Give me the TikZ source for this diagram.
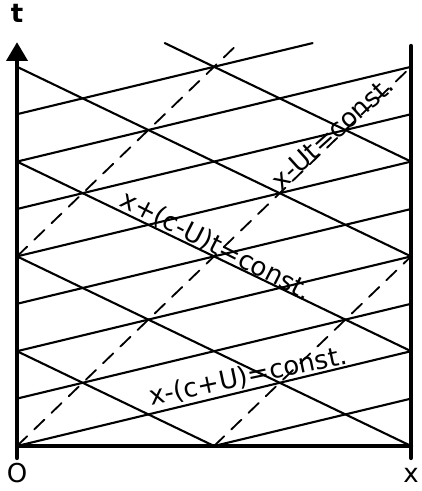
\documentclass[tikz,border=0pt]{standalone}
\usepackage{fontspec}
\setmainfont{DejaVu Sans}
\usetikzlibrary{arrows.meta}
\tikzset{
  every picture/.style={line join=round, line cap=round, >=Stealth},
  wall/.style={line width=3pt},
  charline/.style={line width=1.5pt},
  particle/.style={line width=1.3pt, dash pattern=on 10pt off 7pt},
  lbl/.style={font=\fontsize{18.5}{22}\selectfont, inner sep=0pt},
}

\begin{document}
\begin{tikzpicture}[x=1.642cm,y=1.58cm]
\useasboundingbox (-0.259,-0.712) rectangle (6.152,7.057);
% walls
\draw[wall,-{Triangle[length=0.47cm,width=0.52cm]}](0,-0.19)--(0,6.39);
\draw[wall](6,-0.19)--(6,6.33)
(0,0)--(6,0);
% x-(c+U)t=const.
\draw[charline](3,0)--(6,0.75)
(0,0)--(6,1.5)
(0,0.75)--(6,2.25)
(0,1.5)--(6,3)
(0,2.25)--(6,3.75)
(0,3)--(6,4.5)
(0,3.75)--(6,5.25)
(0,4.5)--(6,6)
(0,5.25)--(4.5,6.375);
% x+(c-U)t=const.
\draw[charline](0,1.5)--(3,0)
(0,3)--(6,0)
(0,4.5)--(6,1.5)
(0,6)--(6,3)
(2.25,6.375)--(6,4.5);
% x-Ut=const.
\draw[particle](0,0)--(6,6)
(0,3)--(3.35,6.35)
(3,0)--(6,3);
% labels
\node[lbl](tlab) at (0,6.84){\bfseries t};
\node[lbl](olab) at (0,-0.43){O};
\node[lbl](xlab) at (6,-0.46){x};
\node[lbl,rotate=12](cplus) at (3.52,1.10){x-(c+U)=const.};
\node[lbl,rotate=-27](cminus) at (3.03,3.17){x+(c-U)t=const.};
\node[lbl,rotate=42](flow) at (4.80,4.96){x-Ut=const.};
\end{tikzpicture}
\end{document}
